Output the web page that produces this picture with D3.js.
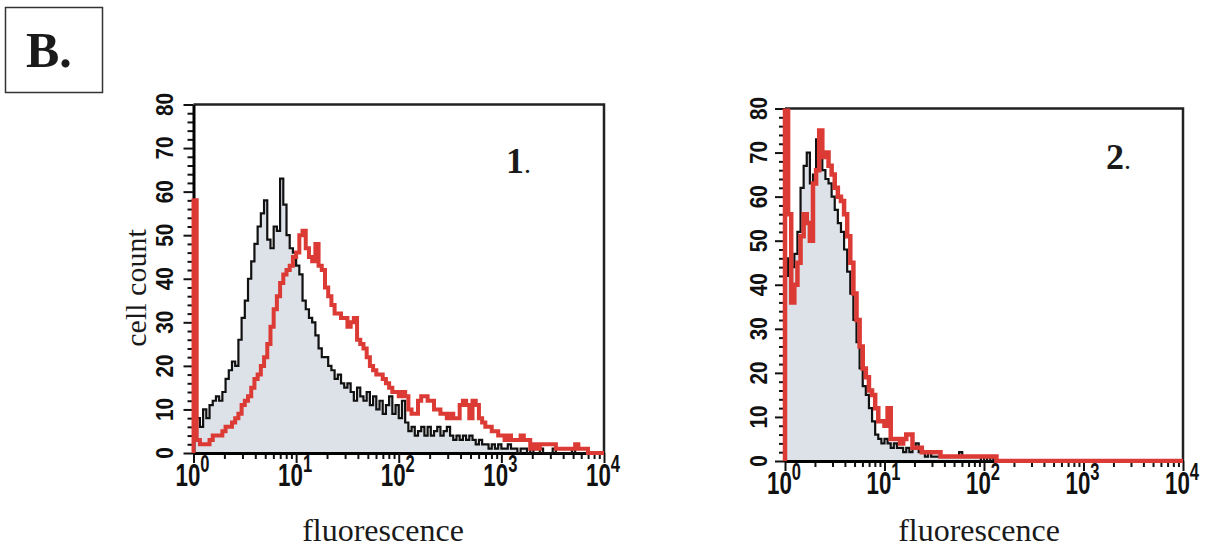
<!DOCTYPE html>
<html><head><meta charset="utf-8">
<script src="https://cdn.jsdelivr.net/npm/d3@7"></script>
<style>
html,body{margin:0;padding:0;background:#fff;}
svg{display:block;}
</style></head>
<body>
<svg id="chart" width="1209" height="547"></svg>
<script>
// ---------------- data ----------------
const nBins = 128;               // channels spread evenly over 4 log decades
const decades = [0, 1, 2, 3, 4];  // x tick exponents (10^0 .. 10^4)
const yTickValues = [0, 10, 20, 30, 40, 50, 60, 70, 80];
const panelLabels = ["1", "2"];
const xAxisTitle = "fluorescence";
const yAxisTitle = "cell count";
const figureLabel = "B.";

// Panel 1 – control (black, filled) and stained (red)
const leftControl = [
  6, 8, 6, 10, 8, 11, 12, 13, 12, 14,
  17, 19, 21, 20, 26, 31, 35, 40, 44, 48,
  52, 55, 58, 49, 47, 52, 51, 63, 57, 50,
  47, 46, 43, 41, 35, 33, 31, 30, 27, 24,
  22, 22, 20, 19, 17, 18, 16, 15, 16, 14,
  12, 15, 13, 12, 14, 11, 13, 10, 12, 9,
  11, 13, 9, 11, 8, 12, 7, 5, 6, 4,
  5, 6, 4, 6, 4, 5, 6, 4, 5, 6,
  4, 3, 4, 3, 4, 3, 4, 3, 2, 3,
  2, 2, 1, 2, 1, 2, 1, 1, 2, 1,
  1, 0, 1, 1, 0, 1, 0, 0, 1, 0,
  0, 0, 1, 0, 0, 0, 0, 0, 1, 0,
  0, 0, 0, 0, 0, 0, 0, 0
];
const leftStained = [
  58, 3, 2, 2, 2, 3, 4, 4, 4, 5,
  6, 6, 7, 8, 9, 11, 12, 13, 15, 17,
  18, 20, 22, 25, 29, 33, 36, 39, 41, 42,
  43, 45, 46, 50, 51, 47, 45, 44, 48, 43,
  42, 38, 36, 34, 32, 32, 31, 31, 29, 30,
  31, 26, 25, 24, 22, 20, 19, 18, 18, 17,
  16, 15, 14, 14, 13, 14, 13, 10, 9, 9,
  12, 13, 13, 12, 12, 10, 10, 9, 9, 8,
  9, 8, 8, 11, 12, 11, 8, 12, 11, 8,
  7, 6, 6, 5, 5, 4, 4, 3, 4, 3,
  3, 3, 4, 3, 3, 1, 2, 1, 2, 2,
  2, 2, 2, 1, 1, 1, 1, 1, 1, 2,
  1, 1, 1, 0, 0, 0, 0, 0
];

// Panel 2
const rightControl = [
  42, 46, 44, 47, 52, 62, 67, 70, 63, 65,
  73, 74, 66, 64, 63, 60, 57, 54, 52, 48,
  43, 38, 32, 27, 21, 17, 15, 12, 9, 6,
  5, 4, 5, 4, 3, 4, 3, 3, 2, 3,
  2, 3, 4, 2, 2, 1, 2, 1, 1, 1,
  1, 1, 1, 1, 1, 1, 2, 1, 1, 1,
  1, 1, 1, 0, 1, 0, 1, 0, 0, 0,
  0, 0, 0, 0, 0, 0, 0, 0, 0, 0,
  0, 0, 0, 0, 0, 0, 0, 0, 0, 0,
  0, 0, 0, 0, 0, 0, 0, 0, 0, 0,
  0, 0, 0, 0, 0, 0, 0, 0, 0, 0,
  0, 0, 0, 0, 0, 0, 0, 0, 0, 0,
  0, 0, 0, 0, 0, 0, 0, 0
];
const rightStained = [
  85, 56, 36, 40, 45, 51, 56, 54, 50, 63,
  66, 75, 69, 70, 67, 65, 62, 60, 59, 56,
  51, 45, 38, 32, 26, 21, 19, 16, 15, 12,
  9, 9, 8, 12, 5, 5, 5, 4, 5, 6,
  6, 3, 3, 3, 2, 2, 2, 2, 2, 2,
  1, 1, 1, 1, 1, 1, 1, 1, 1, 1,
  1, 1, 1, 1, 1, 1, 1, 1, 0, 0,
  0, 0, 0, 0, 0, 0, 0, 0, 0, 0,
  0, 0, 0, 0, 0, 0, 0, 0, 0, 0,
  0, 0, 0, 0, 0, 0, 0, 0, 0, 0,
  0, 0, 0, 0, 0, 0, 0, 0, 0, 0,
  0, 0, 0, 0, 0, 0, 0, 0, 0, 0,
  0, 0, 0, 0, 0, 0, 0, 0
];

// ---------------- layout ----------------
const svg = d3.select("#chart");
const RED = "#dc3a34";
const FILL = "#dde2e9";
const serif = "'Liberation Serif','Times New Roman',Times,serif";
const sans = "'Liberation Sans',Arial,Helvetica,sans-serif";

const panels = [
  {x0: 193.5, x1: 604, yb: 453, yt: 104.5, control: leftControl, stained: leftStained,
   label: panelLabels[0], labelX: 506, labelY: 173, yLabX: 173, titleX: 383, titleY: 541, showYTitle: true, redW: 4},
  {x0: 785, x1: 1183, yb: 461, yt: 108.5, control: rightControl, stained: rightStained,
   label: panelLabels[1], labelX: 1106, labelY: 169, yLabX: 767, titleX: 979, titleY: 541, showYTitle: false, redW: 4.5}
];

// figure label
svg.append("rect").attr("x", 5.5).attr("y", 7.5).attr("width", 97).attr("height", 85)
  .attr("fill", "none").attr("stroke", "#333").attr("stroke-width", 1.5);
svg.append("text").attr("x", 26).attr("y", 67)
  .attr("font-family", serif).attr("font-weight", "bold").attr("font-size", 50)
  .attr("fill", "#1a1a1a").text(figureLabel);

const edge = i => Math.pow(10, 4 * i / nBins);
const defs = svg.append("defs");

panels.forEach((p, pi) => {
  const g = svg.append("g");
  const x = d3.scaleLog().domain([1, 1e4]).range([p.x0, p.x1]);
  const y = d3.scaleLinear().domain([0, 80]).range([p.yb, p.yt]);

  const clipId = "clip" + pi;
  defs.append("clipPath").attr("id", clipId).append("rect")
    .attr("x", p.x0 - 4).attr("y", p.yt).attr("width", p.x1 - p.x0 + 6).attr("height", p.yb - p.yt + 2);

  const ctrlPts = p.control.map((v, i) => [edge(i), v]);
  ctrlPts.push([edge(nBins), p.control[nBins - 1]]);
  const redPts = [[1, 0]].concat(p.stained.map((v, i) => [edge(i), v]));
  redPts.push([edge(nBins), p.stained[nBins - 1]]);

  // filled control histogram
  g.append("g").attr("clip-path", `url(#${clipId})`)
    .append("path").datum(ctrlPts)
    .attr("d", d3.area().curve(d3.curveStepAfter).x(d => x(d[0])).y0(y(0)).y1(d => y(d[1])))
    .attr("fill", FILL);

  // frame (top and right)
  g.append("path")
    .attr("d", `M${p.x0},${y(80)}H${p.x1}V${p.yb}`)
    .attr("fill", "none").attr("stroke", "#222").attr("stroke-width", 2.5);

  // y axis
  const yMinor = d3.range(0, 81, 2).filter(v => v % 10 !== 0);
  g.append("g").attr("transform", `translate(${p.x0},0)`)
    .call(d3.axisLeft(y).tickValues(yMinor).tickSize(6).tickSizeOuter(0).tickFormat(""))
    .call(a => a.select(".domain").remove())
    .call(a => a.selectAll("line").attr("stroke", "#111").attr("stroke-width", 2));
  g.append("g").attr("transform", `translate(${p.x0},0)`)
    .call(d3.axisLeft(y).tickValues(yTickValues).tickSize(10).tickSizeOuter(0).tickFormat(""))
    .call(a => a.select(".domain").attr("stroke", "#000").attr("stroke-width", 3))
    .call(a => a.selectAll("line").attr("stroke", "#111").attr("stroke-width", 2));
  g.selectAll("text.ytl").data(yTickValues).join("text").attr("class", "ytl")
    .attr("transform", d => `translate(${p.yLabX},${y(d)}) rotate(-90) scale(0.9,1)`)
    .attr("text-anchor", "middle")
    .attr("font-family", sans).attr("font-weight", "bold").attr("font-size", 23)
    .attr("fill", "#111").text(d => d);

  // x axis
  const xMinor = [];
  decades.slice(0, -1).forEach(e => [2, 3, 4, 5, 6, 7, 8, 9].forEach(m => xMinor.push(m * Math.pow(10, e))));
  g.append("g").attr("transform", `translate(0,${p.yb})`)
    .call(d3.axisBottom(x).tickValues(xMinor).tickSize(6).tickSizeOuter(0).tickFormat(""))
    .call(a => a.select(".domain").remove())
    .call(a => a.selectAll("line").attr("stroke", "#111").attr("stroke-width", 2));
  g.append("g").attr("transform", `translate(0,${p.yb})`)
    .call(d3.axisBottom(x).tickValues(decades.map(e => Math.pow(10, e))).tickSize(10).tickSizeOuter(0).tickFormat(""))
    .call(a => a.select(".domain").attr("stroke", "#000").attr("stroke-width", 3))
    .call(a => a.selectAll("line").attr("stroke", "#111").attr("stroke-width", 2));
  const xl = g.selectAll("text.xtl").data(decades).join("text").attr("class", "xtl")
    .attr("transform", d => `translate(${x(Math.pow(10, d)) - 1},${p.yb + 33}) scale(0.72,1)`)
    .attr("text-anchor", "middle")
    .attr("font-family", sans).attr("font-weight", "bold").attr("font-size", 31).attr("fill", "#111");
  xl.append("tspan").text("10");
  xl.append("tspan").attr("dy", -14).attr("font-size", 23).text(d => d);

  // histogram lines (on top of the axes)
  const lines = g.append("g").attr("clip-path", `url(#${clipId})`);
  lines.append("path").datum(ctrlPts)
    .attr("d", d3.line().curve(d3.curveStepAfter).x(d => x(d[0])).y(d => y(d[1])))
    .attr("fill", "none").attr("stroke", "#111").attr("stroke-width", 2.2);
  lines.append("path").datum(redPts)
    .attr("d", d3.line().curve(d3.curveStepAfter).x(d => x(d[0])).y(d => y(d[1])))
    .attr("fill", "none").attr("stroke", RED).attr("stroke-width", p.redW);

  // panel number
  const pl = g.append("text").attr("x", p.labelX).attr("y", p.labelY)
    .attr("font-family", serif).attr("font-size", 36).attr("fill", "#1a1a1a");
  pl.append("tspan").attr("font-weight", "bold").text(p.label);
  pl.append("tspan").attr("font-size", 28).text(".");

  // axis titles
  g.append("text").attr("x", p.titleX).attr("y", p.titleY).attr("text-anchor", "middle")
    .attr("font-family", serif).attr("font-size", 32).attr("fill", "#1a1a1a").text(xAxisTitle);
  if (p.showYTitle) {
    g.append("text").attr("transform", `translate(146,288) rotate(-90)`).attr("text-anchor", "middle")
      .attr("font-family", serif).attr("font-size", 30).attr("fill", "#1a1a1a").text(yAxisTitle);
  }
});
</script>
</body></html>
